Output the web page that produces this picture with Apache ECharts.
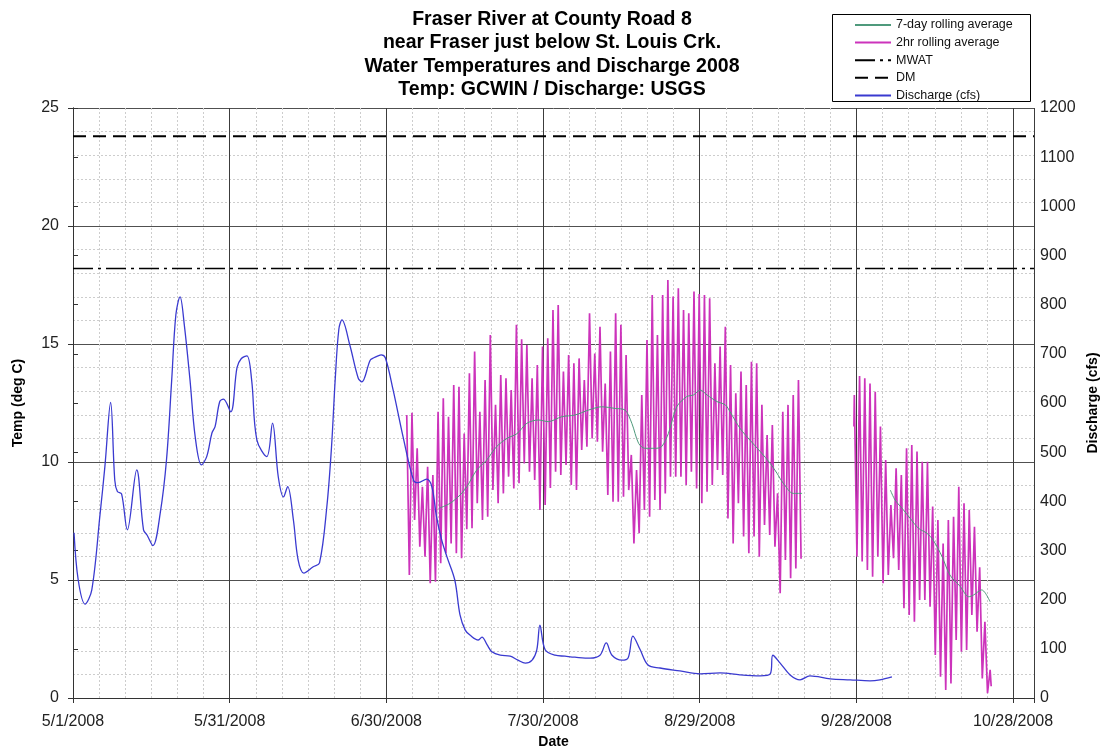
<!DOCTYPE html>
<html><head><meta charset="utf-8">
<script src="https://cdn.jsdelivr.net/npm/echarts@6/dist/echarts.min.js"></script>
<style>html,body{margin:0;padding:0;background:#fff}#c{width:1104px;height:750px}</style>
</head><body><div id="c"></div><script>
// ---------- data ----------
const titleLines = ['Fraser River at County Road 8', 'near Fraser just below St. Louis Crk.', 'Water Temperatures and Discharge 2008', 'Temp: GCWIN / Discharge: USGS'];
const xTickLabels = ['5/1/2008', '5/31/2008', '6/30/2008', '7/30/2008', '8/29/2008', '9/28/2008', '10/28/2008'];
const xTickStepDays = 30;
const xMinorStepDays = 5;
const xAxisMaxDay = 184;          // days after 5/1/2008
const mwatTemp = 18.2;
const dmTemp = 23.8;

// Discharge (cfs): day after 5/1/2008 and value
const dischargeDays = [0.2, 1.0, 2.3, 3.6, 5.2, 6.1, 7.2, 8.0, 8.5, 9.3, 10.4, 12.2, 13.5, 14.2, 15.3, 16.7, 17.9, 18.9, 19.7, 20.5, 21.3, 22.4, 23.4, 24.6, 25.6, 26.6, 27.2, 28.1, 28.8, 30.2, 31.4, 32.2, 33.3, 34.2, 35.2, 37.1, 38.2, 39.3, 40.3, 41.1, 42.2, 43.1, 44.2, 46.0, 47.2, 48.6, 49.5, 50.2, 50.9, 51.5, 53.0, 54.6, 55.3, 56.9, 57.6, 58.4, 59.0, 59.8, 61.3, 63.2, 65.2, 66.1, 67.7, 68.7, 69.6, 70.6, 71.6, 73.1, 74.1, 75.1, 76.0, 77.6, 78.3, 79.3, 80.2, 81.8, 83.7, 85.2, 86.6, 87.9, 88.8, 89.4, 90.4, 92.3, 94.2, 96.1, 99.0, 100.9, 102.1, 103.2, 105.1, 106.3, 107.2, 108.6, 110.1, 112.4, 116.2, 120.1, 123.9, 127.7, 131.6, 133.5, 134.0, 135.4, 137.3, 139.2, 141.1, 145.0, 148.8, 152.6, 154.5, 156.8];
const dischargeCfs = [336, 240, 191, 220, 376, 470, 601, 443, 420, 415, 342, 464, 342, 331, 310, 376, 484, 647, 780, 816, 760, 647, 531, 474, 491, 539, 552, 603, 608, 582, 672, 690, 696, 647, 525, 491, 559, 450, 409, 430, 362, 281, 254, 267, 275, 389, 511, 647, 750, 769, 718, 651, 643, 687, 692, 696, 698, 692, 626, 531, 443, 438, 445, 430, 369, 321, 287, 240, 169, 138, 128, 118, 124, 108, 94, 87, 85, 77, 71, 77, 98, 148, 98, 87, 85, 83, 81, 87, 112, 87, 77, 82, 126, 98, 67, 61, 55, 49, 51, 47, 45, 49, 87, 71, 47, 37, 45, 39, 37, 35, 37, 43];

// 7-day rolling average (deg C)
const avg1Days = [70.1, 72.2, 74.1, 75.4, 77.3, 79.2, 81.1, 83.1, 85.0, 86.9, 89.1, 91.0, 93.6, 96.1, 98.7, 101.2, 103.8, 105.7, 107.0, 108.3, 109.5, 111.5, 112.7, 114.0, 115.6, 117.5, 118.8, 120.1, 121.4, 123.3, 124.9, 125.8, 127.7, 129.6, 131.6, 133.5, 134.8, 136.0, 137.9, 139.6];
const avg1Temps = [8.04, 8.25, 8.6, 8.95, 9.66, 10.08, 10.65, 11.0, 11.2, 11.64, 11.78, 11.71, 11.92, 11.99, 12.2, 12.34, 12.27, 12.2, 11.64, 10.79, 10.58, 10.58, 10.65, 11.21, 12.34, 12.77, 12.84, 13.05, 12.84, 12.56, 12.42, 12.13, 11.43, 10.93, 10.44, 9.94, 9.52, 9.10, 8.67, 8.67];
const avg2Days = [156.5, 157.4, 159.0, 160.3, 161.9, 163.5, 164.7, 166.4, 167.9, 169.9, 171.5, 172.4, 174.0, 174.7, 175.6];
const avg2Temps = [8.81, 8.39, 7.97, 7.61, 7.19, 6.98, 6.69, 5.99, 5.21, 4.72, 4.29, 4.36, 4.58, 4.44, 4.08];

// 2hr rolling average: daily highs and lows (deg C)
const hr1FirstPeakDay = 63.9;
const hr1Peaks = [11.99, 12.09, 10.58, 8.95, 9.80, 9.45, 12.13, 12.70, 11.92, 13.26, 13.19, 11.21, 13.76, 14.68, 12.13, 13.47, 15.38, 12.42, 13.69, 13.55, 13.05, 15.81, 15.20, 14.96, 13.55, 14.11,
  14.89, 15.24, 16.44, 16.65, 13.83, 14.53, 14.18, 14.39, 13.47, 16.30, 14.60, 15.73, 13.33, 14.68, 16.30, 15.81, 14.53, 10.30, 9.66, 12.84, 15.17, 17.08, 15.38, 17.08, 17.71, 17.01,
  17.36, 16.44, 16.30, 17.22, 17.12, 17.08, 16.94, 14.18, 14.89, 15.73, 14.11, 12.91, 13.83, 13.26, 14.25, 14.18, 12.42, 11.14, 11.57, 8.67, 12.13, 12.42, 12.84, 13.47];
const hr1Troughs = [5.21, 7.54, 6.41, 5.99, 4.86, 4.93, 5.71, 6.13, 6.55, 6.13, 5.92, 7.15, 7.19, 8.25, 7.54, 7.68, 8.81, 8.25, 8.67, 9.38, 8.88, 9.10, 9.94, 9.59, 9.24, 7.97,
  8.18, 8.9, 9.59, 9.45, 9.87, 9.03, 8.81, 10.51, 10.65, 11.00, 10.86, 10.44, 8.60, 8.32, 8.32, 8.53, 8.81, 6.55, 6.98, 7.97, 7.68, 8.39, 7.97, 8.67, 9.38,
  9.38, 9.38, 9.03, 9.59, 8.88, 8.25, 8.74, 9.03, 9.66, 9.45, 7.61, 6.55, 8.25, 6.84, 6.13, 6.84, 5.99, 7.33, 6.91, 6.41, 4.44, 5.85, 5.07, 5.49, 5.9];
const hr2FirstPeakDay = 149.6;
const hr2StartTemp = 11.5;
const hr2Peaks = [12.84, 13.64, 13.55, 13.33, 12.98, 11.50, 10.08, 8.18, 9.73, 9.45, 10.58, 10.72, 10.44, 10.01, 10.01, 8.11, 7.54, 6.55, 7.54, 7.68, 8.95, 8.25, 7.97, 7.26, 5.54, 3.23, 1.19];
const hr2Troughs = [5.99, 5.78, 5.42, 5.14, 5.99, 4.86, 5.21, 5.92, 5.42, 3.80, 3.52, 3.23, 4.15, 4.15, 3.87, 1.82, 0.90, 0.34, 0.62, 2.46, 1.96, 2.03, 3.52, 2.81, 0.83, 0.20];
const hr2EndTemp = 0.5;

// ---------- build ----------
function pairs(xs, ys) { return xs.map((x, i) => [x, ys[i]]); }
function zigzag(firstPeak, peaks, troughs) {
  const pts = [];
  for (let i = 0; i < peaks.length; i++) {
    pts.push([firstPeak + i, peaks[i]]);
    if (i < troughs.length) pts.push([firstPeak + i + 0.5, troughs[i]]);
  }
  return pts;
}
const hr1 = zigzag(hr1FirstPeakDay, hr1Peaks, hr1Troughs);
const hr2 = [[hr2FirstPeakDay - 0.08, hr2StartTemp]].concat(zigzag(hr2FirstPeakDay, hr2Peaks, hr2Troughs));
hr2.push([hr2FirstPeakDay + hr2Peaks.length - 1 + 0.2, hr2EndTemp]);

const FONT = 'Liberation Sans, Arial, sans-serif';
const C_HR = '#cc33bb', C_AVG = '#4f9a7c', C_Q = '#3a3ad0';

const chart = echarts.init(document.getElementById('c'), null, { renderer: 'canvas' });
const base = { type: 'line', symbol: 'none', showSymbol: false, animation: false, xAxisIndex: 1 };
chart.setOption({
  animation: false,
  backgroundColor: '#fff',
  title: {
    text: titleLines.join('\n'), left: 'center', top: 3,
    textStyle: { fontFamily: FONT, fontSize: 19.5, fontWeight: 'bold', color: '#000', lineHeight: 23.3 }
  },
  graphic: [{ type: 'rect', left: 832, top: 14, shape: { width: 198, height: 87 }, style: { fill: '#fff', stroke: '#000', lineWidth: 1 }, z: 10 }],
  legend: {
    orient: 'vertical', left: 849, top: 13.5, itemWidth: 36, itemHeight: 12, itemGap: 4.6, z: 20,
    itemStyle: { opacity: 0, borderWidth: 0 },
    data: ['7-day rolling average', '2hr rolling average', 'MWAT', 'DM', 'Discharge (cfs)'],
    textStyle: { fontFamily: FONT, fontSize: 12.5, color: '#111' }
  },
  grid: { left: 73, right: 70, top: 108, bottom: 52, containLabel: false, outerBoundsMode: 'none' },
  xAxis: [
    { type: 'value', min: 0, max: xAxisMaxDay, interval: xMinorStepDays, position: 'bottom',
      axisLine: { show: false }, axisTick: { show: false }, axisLabel: { show: false },
      splitLine: { show: true, lineStyle: { color: '#cdcdcd', type: [2, 2], width: 1 } } },
    { type: 'value', min: 0, max: xAxisMaxDay, interval: xTickStepDays, position: 'bottom',
      name: 'Date', nameLocation: 'middle', nameGap: 37,
      nameTextStyle: { fontFamily: FONT, fontSize: 14, fontWeight: 'bold', color: '#000' },
      axisLine: { show: true, lineStyle: { color: '#333', width: 1 } },
      axisTick: { show: true, length: 5, lineStyle: { color: '#333' } },
      axisLabel: { fontFamily: FONT, fontSize: 16, color: '#222', margin: 16,
        formatter: v => { const i = Math.round(v / xTickStepDays); return (Math.abs(v - i * xTickStepDays) < 1e-6 && xTickLabels[i]) ? xTickLabels[i] : ''; } },
      splitLine: { show: true, lineStyle: { color: '#3c3c3c', width: 1 } } }
  ],
  yAxis: [
    { type: 'value', min: 0, max: 25, interval: 5, position: 'left',
      name: 'Temp (deg C)', nameLocation: 'middle', nameGap: 48, nameRotate: 90,
      nameTextStyle: { fontFamily: FONT, fontSize: 14, fontWeight: 'bold', color: '#000' },
      axisLine: { show: true, lineStyle: { color: '#333' } },
      axisTick: { show: true, length: 5, lineStyle: { color: '#333' } },
      axisLabel: { fontFamily: FONT, fontSize: 16, color: '#222', margin: 14 },
      splitLine: { show: true, lineStyle: { color: '#505050', width: 1 } },
      minorTick: { show: false, splitNumber: 5 },
      minorSplitLine: { show: true, lineStyle: { color: '#cdcdcd', type: [2, 2], width: 1 } } },
    { type: 'value', min: 0, max: 1200, interval: 100, position: 'right',
      name: 'Discharge (cfs)', nameLocation: 'middle', nameGap: 47, nameRotate: 90,
      nameTextStyle: { fontFamily: FONT, fontSize: 14, fontWeight: 'bold', color: '#000' },
      axisLine: { show: true, lineStyle: { color: '#333' } },
      axisTick: { show: true, length: 5, lineStyle: { color: '#333' } },
      axisLabel: { fontFamily: FONT, fontSize: 16, color: '#222', margin: 6, formatter: v => String(v) },
      splitLine: { show: false } }
  ],
  series: [
    Object.assign({}, base, { name: '2hr rolling average', yAxisIndex: 0, data: hr1, lineStyle: { color: C_HR, width: 1.7 }, itemStyle: { color: C_HR } }),
    Object.assign({}, base, { name: '2hr rolling average', yAxisIndex: 0, data: hr2, lineStyle: { color: C_HR, width: 1.7 }, itemStyle: { color: C_HR } }),
    Object.assign({}, base, { name: '7-day rolling average', yAxisIndex: 0, data: pairs(avg1Days, avg1Temps), smooth: 0.3, lineStyle: { color: C_AVG, width: 1 }, itemStyle: { color: C_AVG } }),
    Object.assign({}, base, { name: '7-day rolling average', yAxisIndex: 0, data: pairs(avg2Days, avg2Temps), smooth: 0.3, lineStyle: { color: C_AVG, width: 1 }, itemStyle: { color: C_AVG } }),
    Object.assign({}, base, { name: 'MWAT', yAxisIndex: 0, data: [[0, mwatTemp], [xAxisMaxDay, mwatTemp]], lineStyle: { color: '#000', width: 1.5, type: [20, 5, 3, 5] }, itemStyle: { color: '#000' } }),
    Object.assign({}, base, { name: 'DM', yAxisIndex: 0, data: [[0, dmTemp], [xAxisMaxDay, dmTemp]], lineStyle: { color: '#000', width: 2, type: [13, 7] }, itemStyle: { color: '#000' } }),
    Object.assign({}, base, { name: 'Discharge (cfs)', yAxisIndex: 1, data: pairs(dischargeDays, dischargeCfs), smooth: 0.35, lineStyle: { color: C_Q, width: 1.3 }, itemStyle: { color: C_Q } })
  ]
});
</script></body></html>
